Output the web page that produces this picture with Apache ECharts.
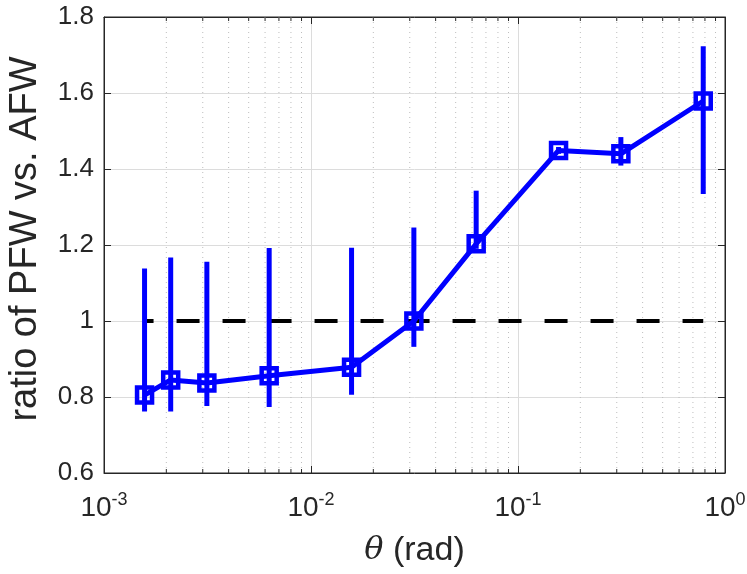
<!DOCTYPE html>
<html>
<head>
<meta charset="utf-8">
<script src="https://cdn.jsdelivr.net/npm/echarts@6/dist/echarts.min.js"></script>
<style>
  html, body { margin: 0; padding: 0; background: #fff; }
  #chart { width: 747px; height: 574px; }
</style>
</head>
<body>
<div id="chart"></div>
<script>
// 角度 (rad) 与比值
var thetaRad = [0.00157, 0.0021, 0.00314, 0.00628, 0.0157, 0.0314, 0.0628, 0.157, 0.314, 0.785];
var ratio    = [0.805, 0.845, 0.837, 0.856, 0.878, 1.0, 1.203, 1.449, 1.44, 1.579];
var errLow   = [0.762, 0.762, 0.776, 0.774, 0.806, 0.932, 1.19, 1.44, 1.409, 1.334];
var errHigh  = [1.138, 1.167, 1.156, 1.192, 1.193, 1.246, 1.343, 1.458, 1.484, 1.723];
var refX = [0.00157, 0.785]; // 参考线范围
var refY = 1;
var yTicks = [0.6, 0.8, 1, 1.2, 1.4, 1.6, 1.8];

var axisColor = '#262626';
var font = 'Liberation Sans';

// 次刻度 (2..9 x 10^k)
var minorX = [];
for (var k = -3; k < 0; k++) {
    for (var m = 2; m <= 9; m++) {
        minorX.push(m * Math.pow(10, k));
    }
}

var myChart = echarts.init(document.getElementById('chart'));

var option = {
    animation: false,
    grid: {
        left: 104, right: 22, top: 17, bottom: 101,
        outerBoundsMode: 'none',
        show: true, borderColor: axisColor, borderWidth: 1
    },
    xAxis: [{
        type: 'log', logBase: 10, min: 0.001, max: 1,
        name: '{t|θ} (rad)', nameLocation: 'middle', nameGap: 61,
        nameTextStyle: {
            fontFamily: font, fontSize: 34, color: axisColor,
            rich: { t: { fontFamily: 'DejaVu Serif', fontStyle: 'italic', fontSize: 32, color: axisColor } }
        },
        axisLine: { show: true, lineStyle: { color: axisColor, width: 1 } },
        axisTick: { show: true, inside: true, length: 7, lineStyle: { color: axisColor } },
        axisLabel: {
            margin: 18,
            formatter: function (v) {
                var e = Math.round(Math.log10(v));
                return '{b|10}{s|' + e + '}';
            },
            rich: {
                b: { fontFamily: font, fontSize: 28, color: axisColor },
                s: { fontFamily: font, fontSize: 18, color: axisColor, padding: [0, 0, 17, 0] }
            }
        },
        splitLine: { show: true, lineStyle: { color: '#dcdcdc', width: 1 } }
    }, {
        type: 'log', logBase: 10, min: 0.001, max: 1, position: 'top',
        axisLine: { show: true, lineStyle: { color: axisColor } },
        axisTick: { show: true, inside: true, length: 7, lineStyle: { color: axisColor } },
        axisLabel: { show: false },
        splitLine: { show: false }
    }],
    yAxis: [{
        type: 'value', min: 0.6, max: 1.8, interval: 0.2,
        name: 'ratio of PFW vs. AFW', nameLocation: 'middle', nameGap: 59,
        nameTextStyle: { fontFamily: font, fontSize: 38, color: axisColor, padding: [0, 0, 0, 12] },
        axisLine: { show: true, lineStyle: { color: axisColor } },
        axisTick: { show: true, inside: true, length: 7, lineStyle: { color: axisColor } },
        axisLabel: {
            margin: 10, fontFamily: font, fontSize: 26, color: axisColor,
            formatter: function (v) {
                var t = Math.round(v * 10) / 10;
                return yTicks.indexOf(t) >= 0 ? String(t) : '';
            }
        },
        splitLine: { show: true, lineStyle: { color: '#dcdcdc', width: 1 } }
    }, {
        type: 'value', min: 0.6, max: 1.8, interval: 0.2, position: 'right',
        axisLine: { show: true, lineStyle: { color: axisColor } },
        axisTick: { show: true, inside: true, length: 7, lineStyle: { color: axisColor } },
        axisLabel: { show: false },
        splitLine: { show: false }
    }],
    series: [{
        // 次网格线与次刻度
        name: 'minor',
        type: 'custom',
        z: 1,
        silent: true,
        renderItem: function (params, api) {
            var x = api.value(0);
            var top = api.coord([x, 1.8]);
            var bot = api.coord([x, 0.6]);
            return {
                type: 'group',
                children: [{
                    type: 'line',
                    shape: { x1: top[0], y1: top[1], x2: bot[0], y2: bot[1] },
                    style: { stroke: '#bdbdbd', lineWidth: 1, lineDash: [1, 4] }
                }, {
                    type: 'line',
                    shape: { x1: bot[0], y1: bot[1], x2: bot[0], y2: bot[1] - 4 },
                    style: { stroke: axisColor, lineWidth: 1 }
                }, {
                    type: 'line',
                    shape: { x1: top[0], y1: top[1], x2: top[0], y2: top[1] + 4 },
                    style: { stroke: axisColor, lineWidth: 1 }
                }]
            };
        },
        encode: { x: 0 },
        data: minorX.map(function (x) { return [x]; })
    }, {
        // 参考线 y = 1
        name: 'ref',
        type: 'line',
        z: 2,
        symbol: 'none',
        data: [[refX[0], refY], [refX[1], refY]],
        lineStyle: { color: '#000', width: 4, type: [23, 23], dashOffset: 14 }
    }, {
        // 误差棒
        name: 'err',
        type: 'custom',
        z: 3,
        renderItem: function (params, api) {
            var x = api.value(0);
            var p1 = api.coord([x, api.value(1)]);
            var p2 = api.coord([x, api.value(2)]);
            return {
                type: 'line',
                shape: { x1: p1[0], y1: p1[1], x2: p2[0], y2: p2[1] },
                style: { stroke: '#0000ff', lineWidth: 5 }
            };
        },
        encode: { x: 0, y: [1, 2] },
        data: thetaRad.map(function (x, i) { return [x, errLow[i], errHigh[i]]; })
    }, {
        name: 'ratio',
        type: 'line',
        z: 4,
        symbol: 'rect',
        symbolSize: 15,
        data: thetaRad.map(function (x, i) { return [x, ratio[i]]; }),
        lineStyle: { color: '#0000ff', width: 5 },
        itemStyle: { color: 'rgba(255,255,255,0)', borderColor: '#0000ff', borderWidth: 4.5 }
    }]
};

myChart.setOption(option);
</script>
</body>
</html>
